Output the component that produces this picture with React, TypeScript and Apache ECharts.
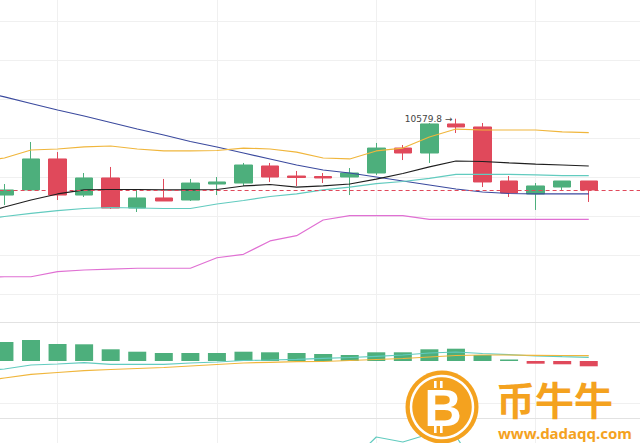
import React, { useEffect, useRef } from 'react';
import * as echarts from 'echarts';

// ---- data ----
const categories = [
  '10-13 20:00',
  '10-14 00:00', '10-14 04:00', '10-14 08:00', '10-14 12:00', '10-14 16:00', '10-14 20:00',
  '10-15 00:00', '10-15 04:00', '10-15 08:00', '10-15 12:00', '10-15 16:00', '10-15 20:00',
  '10-16 00:00', '10-16 04:00', '10-16 08:00', '10-16 12:00', '10-16 16:00', '10-16 20:00',
  '10-17 00:00', '10-17 04:00', '10-17 08:00', '10-17 12:00', '10-17 16:00',
  '10-17 20:00', '10-18 00:00',
];

// [open, close, low, high]
const candles: number[][] = [
  [10501.5, 10506.7, 10491.3, 10512.8],
  [10506.7, 10538.5, 10505.6, 10555.9],
  [10538.5, 10501.5, 10496.4, 10545.6],
  [10501.5, 10519.0, 10499.5, 10524.1],
  [10519.0, 10488.2, 10487.2, 10530.3],
  [10488.2, 10498.5, 10484.1, 10506.7],
  [10498.5, 10495.4, 10495.4, 10518.0],
  [10496.4, 10513.8, 10495.4, 10518.0],
  [10512.8, 10514.9, 10501.5, 10520.0],
  [10513.8, 10532.3, 10510.8, 10534.4],
  [10531.3, 10520.0, 10514.9, 10534.4],
  [10521.0, 10519.5, 10510.8, 10526.2],
  [10520.5, 10519.0, 10513.8, 10524.1],
  [10520.0, 10524.1, 10501.5, 10529.2],
  [10524.1, 10549.7, 10522.1, 10554.9],
  [10549.7, 10544.6, 10537.4, 10552.8],
  [10544.6, 10574.4, 10534.4, 10575.4],
  [10574.4, 10571.3, 10565.1, 10579.8],
  [10571.3, 10514.9, 10509.7, 10575.4],
  [10515.9, 10503.6, 10499.5, 10521.0],
  [10502.6, 10510.8, 10486.2, 10513.8],
  [10509.7, 10515.9, 10506.7, 10515.9],
  [10515.9, 10506.7, 10494.4, 10515.9],
];

// lines start one slot before the first visible candle
const maLong = [10608.2, 10602.1, 10595.4, 10588.7, 10582.6, 10575.9, 10569.2, 10563.1, 10556.4, 10550.8, 10544.6, 10538.5, 10532.3, 10527.2, 10524.1, 10520.0, 10515.9, 10511.8, 10507.7, 10504.6, 10503.1, 10502.6, 10502.6, 10502.6];
const maShort = [10481.0, 10489.2, 10496.4, 10502.6, 10506.7, 10507.2, 10507.2, 10506.7, 10506.7, 10507.2, 10510.8, 10512.3, 10509.7, 10510.8, 10512.8, 10517.9, 10523.6, 10530.3, 10536.4, 10535.9, 10534.4, 10533.3, 10532.3, 10531.3];
const bollUpper = [10535.4, 10539.5, 10547.7, 10548.7, 10550.8, 10551.8, 10548.7, 10546.7, 10546.7, 10547.2, 10549.7, 10548.7, 10545.6, 10539.5, 10538.5, 10546.7, 10549.7, 10561.0, 10569.2, 10568.2, 10568.2, 10568.2, 10566.2, 10565.6];
const bollMid = [10475.9, 10479.5, 10482.6, 10485.6, 10487.7, 10488.7, 10488.2, 10487.7, 10487.7, 10492.3, 10495.9, 10500.0, 10502.6, 10506.7, 10509.7, 10513.3, 10515.4, 10518.5, 10522.6, 10522.6, 10522.6, 10522.1, 10521.5, 10521.5];
const bollLower = [10417.4, 10417.7, 10417.7, 10422.9, 10424.6, 10425.6, 10426.4, 10426.4, 10426.4, 10437.2, 10440.7, 10454.4, 10459.8, 10475.9, 10480.3, 10480.3, 10480.3, 10476.6, 10476.6, 10476.6, 10476.6, 10476.6, 10476.6, 10476.6];

const macdHist = [19, 21, 17, 16.7, 11.7, 9.3, 8, 8, 8, 9.3, 8.7, 8, 7, 6, 8.7, 8.7, 11.7, 12.3, 6, 1.5, -2.7, -3.3, -5.3];
const macdDif = [-10, -8, -4, -3, -1.7, -3.3, -3.3, -3.3, -2, -1, 0.5, 1, 1.7, 2.7, 3.5, 4.7, 6, 8, 9, 7.5, 6.3, 5, 4.3, 3.7];
const macdDea = [-21, -17, -13.3, -11.5, -9.7, -8.5, -7.5, -6.5, -5, -3.5, -2, -1.3, -0.7, -0.5, 0.5, 1.5, 2.5, 4, 5.5, 6, 6, 5.7, 5.5, 5.3];

const rsiLine = [45, 48, 62, 44, 55, 38, 47, 42, 52, 50, 60, 49, 47, 46, 55, 81, 76, 84, 82, 40, 33, 44, 52, 41];

// ---- styles ----
const GREEN = '#4daf7c';
const RED = '#e0495b';
const ORANGE = '#f4a21f';
const GRID_LINE = '#f0f0f0';
const SLOT = 26.56;
const LEFT = -35.4;
const WIDTH = SLOT * categories.length;

export default function App() {
  const ref = useRef<HTMLDivElement>(null);

  useEffect(() => {
    if (!ref.current) return;
    const chart = echarts.init(ref.current, undefined, { renderer: 'svg' });

    const candleData = [['-', '-', '-', '-'], ...candles];
    const lastClose = candles[candles.length - 1][1];
    let hiIdx = 0;
    candles.forEach((c, i) => { if (c[3] > candles[hiIdx][3]) hiIdx = i; });
    const hiVal = candles[hiIdx][3];

    const lineSeries = (name: string, data: number[], color: string, xi: number, yi: number) => ({
      name, type: 'line', data, xAxisIndex: xi, yAxisIndex: yi,
      showSymbol: false, symbol: 'none', silent: true, z: 4,
      lineStyle: { color, width: 1.2 },
    });

    const catAxis = (gi: number) => ({
      type: 'category', gridIndex: gi, data: categories, boundaryGap: true,
      axisLine: { show: false }, axisTick: { show: false }, axisLabel: { show: false }, splitLine: { show: false },
    });

    const gridBase = { outerBoundsMode: 'none', containLabel: false };

    chart.setOption({
      animation: false,
      backgroundColor: '#ffffff',
      grid: [
        { ...gridBase, left: LEFT + 3.5 * SLOT, width: 24 * SLOT, top: 0, height: 443 },
        { ...gridBase, left: LEFT, width: WIDTH, top: 21, height: 273 },
        { ...gridBase, left: LEFT, width: WIDTH, top: 322, height: 96 },
        { ...gridBase, left: LEFT, width: WIDTH, top: 418, height: 100 },
      ],
      xAxis: [
        {
          type: 'value', gridIndex: 0, min: 0, max: 24, interval: 6,
          axisLine: { show: false }, axisTick: { show: false }, axisLabel: { show: false },
          splitLine: { show: true, lineStyle: { color: GRID_LINE, width: 1 } },
        },
        catAxis(1), catAxis(2), catAxis(3),
      ],
      yAxis: [
        { type: 'value', gridIndex: 0, min: 0, max: 1, show: false },
        {
          type: 'value', gridIndex: 1, min: 10400, max: 10680, interval: 40,
          axisLine: { show: false }, axisTick: { show: false }, axisLabel: { show: false },
          splitLine: { show: true, lineStyle: { color: GRID_LINE, width: 1 } },
        },
        { type: 'value', gridIndex: 2, min: -57, max: 39, show: false, splitLine: { show: false } },
        { type: 'value', gridIndex: 3, min: 0, max: 100, show: false, splitLine: { show: false } },
      ],
      series: [
        {
          name: 'K', type: 'candlestick', xAxisIndex: 1, yAxisIndex: 1, data: candleData,
          barWidth: 18, z: 3, silent: true,
          itemStyle: { color: GREEN, color0: RED, borderColor: GREEN, borderColor0: RED, borderWidth: 1 },
          markLine: {
            silent: true, symbol: ['none', 'none'], label: { show: false },
            lineStyle: { color: RED, type: [4, 3], width: 1 },
            data: [{ yAxis: lastClose }],
          },
          markPoint: {
            silent: true,
            data: [{
              coord: [hiIdx + 1, hiVal], symbol: 'circle', symbolSize: 1,
              itemStyle: { color: 'rgba(0,0,0,0)' },
              label: {
                show: true, position: 'left', distance: 3,
                formatter: `${hiVal} →`, fontSize: 9, color: '#444',
                fontFamily: '"DejaVu Sans", sans-serif',
              },
            }],
          },
        },
        lineSeries('MA60', maLong, '#3b4a9e', 1, 1),
        lineSeries('MA10', maShort, '#1f1f1f', 1, 1),
        lineSeries('UP', bollUpper, '#f0b63c', 1, 1),
        lineSeries('MB', bollMid, '#62cbbf', 1, 1),
        lineSeries('DN', bollLower, '#e070d3', 1, 1),
        {
          name: 'MACD', type: 'bar', xAxisIndex: 2, yAxisIndex: 2, data: ['-', ...macdHist],
          barWidth: 18, silent: true, z: 3,
          itemStyle: { color: (p: any) => (p.value >= 0 ? GREEN : RED) },
          markLine: {
            silent: true, symbol: ['none', 'none'], label: { show: false },
            data: [
              { yAxis: 39, lineStyle: { color: '#e2e2e2', type: 'solid', width: 1 } },
              { yAxis: -42, lineStyle: { color: GRID_LINE, type: 'solid', width: 1 } },
              { yAxis: -57, lineStyle: { color: '#e2e2e2', type: 'solid', width: 1 } },
            ],
          },
        },
        lineSeries('DIF', macdDif, '#62cbbf', 2, 2),
        lineSeries('DEA', macdDea, '#f0b63c', 2, 2),
        lineSeries('RSI', rsiLine, '#62cbbf', 3, 3),
      ],
      graphic: [
        { type: 'circle', shape: { cx: 442, cy: 407, r: 36.5 }, style: { fill: ORANGE }, z: 100 },
        { type: 'circle', shape: { cx: 442, cy: 407, r: 31 }, style: { fill: 'none', stroke: '#ffffff', lineWidth: 2.5 }, z: 101 },
        { type: 'rect', shape: { x: 434, y: 381, width: 2.6, height: 7 }, style: { fill: '#ffffff' }, z: 102 },
        { type: 'rect', shape: { x: 440, y: 381, width: 2.6, height: 7 }, style: { fill: '#ffffff' }, z: 102 },
        { type: 'rect', shape: { x: 434, y: 426, width: 2.6, height: 7 }, style: { fill: '#ffffff' }, z: 102 },
        { type: 'rect', shape: { x: 440, y: 426, width: 2.6, height: 7 }, style: { fill: '#ffffff' }, z: 102 },
        {
          type: 'text', x: 443, y: 408, z: 103,
          style: {
            text: 'B', fill: '#ffffff', font: 'bold 52px "Liberation Sans"',
            align: 'center', verticalAlign: 'middle', textAlign: 'center', textVerticalAlign: 'middle',
          },
        },
        {
          type: 'text', x: 496, y: 398, z: 103,
          style: {
            text: '币牛牛', fill: ORANGE, font: 'bold 39px "Noto Sans CJK SC"', lineHeight: 34,
            align: 'left', verticalAlign: 'middle', textAlign: 'left', textVerticalAlign: 'middle',
          },
        },
        {
          type: 'text', x: 498, y: 432.5, z: 103,
          style: {
            text: 'www.dadaqq.com', fill: ORANGE, font: 'bold 15px "Noto Sans"', lineHeight: 12,
            align: 'left', verticalAlign: 'middle', textAlign: 'left', textVerticalAlign: 'middle',
          },
        },
      ],
    });

    return () => chart.dispose();
  }, []);

  return (
    <div
      ref={ref}
      style={{ position: 'fixed', left: 0, top: 0, width: 640, height: 443, background: '#ffffff' }}
    />
  );
}
